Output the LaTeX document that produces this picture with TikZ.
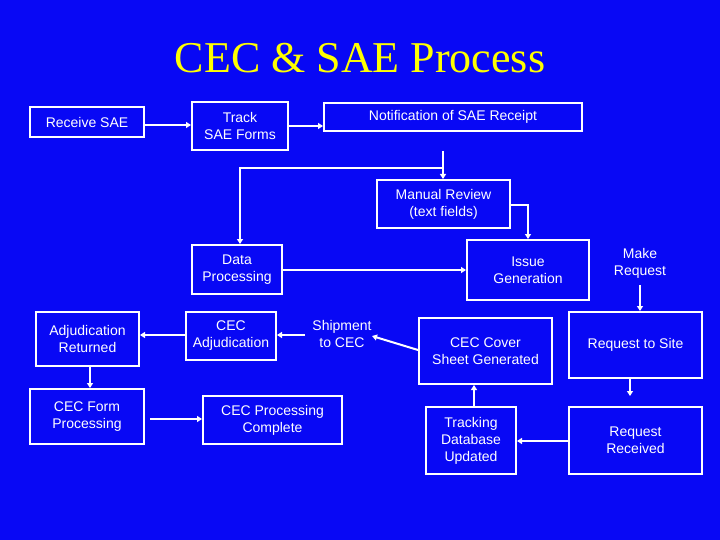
\documentclass[tikz,border=0pt]{standalone}
\usepackage{fontspec}
\setmainfont{Liberation Sans}
\newfontfamily\titlefont{Liberation Serif}
\usetikzlibrary{arrows.meta}
\definecolor{bg}{RGB}{8,8,245}
\definecolor{ttl}{RGB}{255,255,0}
\begin{document}
\begin{tikzpicture}[x=1pt,y=-1pt,
 box/.style={draw=white,line width=2pt,text=white,align=center,font=\fontsize{14}{17}\selectfont,inner sep=0pt},
 lbl/.style={text=white,align=center,font=\fontsize{14}{17}\selectfont,inner sep=0pt},
 conn/.style={draw=white,line width=2pt,-{Triangle[length=5pt,width=6pt]}},
 ln/.style={draw=white,line width=2pt}]
\fill[bg] (0,0) rectangle (720,540);
\useasboundingbox (0,0) rectangle (720,540);
\node[text=ttl,font=\titlefont\fontsize{44}{50}\selectfont] (title) at (360,58) {CEC \& SAE Process};
\newcommand\bx[6]{\node[box,minimum width=#4-#2,minimum height=#5-#3] (#1) at ({(#2+#4)/2},{(#3+#5)/2}) {#6};}
\bx{rec}{30}{107}{144}{137}{Receive SAE}
\bx{track}{192}{102}{288}{150}{Track\\SAE Forms}
\bx{notif}{324}{103}{582}{131}{Notification of SAE Receipt}
\bx{manual}{377}{180}{510}{228}{Manual Review\\(text fields)}
\bx{data}{192}{245}{282}{294}{Data\\Processing}
\bx{issue}{467}{240}{589}{300}{Issue\\Generation}
\node[lbl] (make) at (640,263) {Make\\Request};
\bx{adjret}{36}{312}{139}{366}{Adjudication\\Returned}
\bx{cecadj}{186}{312}{276}{360}{CEC\\Adjudication}
\node[lbl] (ship) at (342,334) {Shipment\\to CEC};
\bx{cover}{419}{318}{552}{384}{CEC Cover\\Sheet Generated}
\bx{site}{569}{312}{702}{378}{Request to Site}
\bx{form}{30}{389}{144}{444}{CEC Form\\Processing}
\bx{complete}{203}{396}{342}{444}{CEC Processing\\Complete}
\bx{trackdb}{426}{407}{516}{474}{Tracking\\Database\\Updated}
\bx{recv}{569}{407}{702}{474}{Request\\Received}
\coordinate (ntop) at (443,151);
\coordinate (branch) at (443,168);
\coordinate (sitebot) at (630,378);
\coordinate (recvtop) at (630,396);
\coordinate (maketop) at (640,285);
\draw[conn] (rec.east |- 0,125) -- (track.west |- 0,125);
\draw[conn] (track.east |- 0,126) -- (notif.west |- 0,126);
\draw[conn] (ntop) -- (manual.north -| ntop);
\draw[conn] (branch) -| (data.north -| 240,0);
\draw[conn] (manual.east |- 0,205) -| (issue.north -| 528,0);
\draw[conn] (data.east |- 0,270) -- (issue.west |- 0,270);
\draw[conn] (maketop) -- (site.north -| maketop);
\draw[conn] (sitebot) -- (recvtop);
\draw[conn] (recv.west |- 0,441) -- (trackdb.east |- 0,441);
\draw[conn] (trackdb.north -| 474,0) -- (cover.south -| 474,0);
\draw[conn] (cover.west |- 0,350) -- (372,336);
\draw[conn] (305,335) -- (cecadj.east |- 0,335);
\draw[conn] (cecadj.west |- 0,335) -- (adjret.east |- 0,335);
\draw[conn] (adjret.south -| 90,0) -- (form.north -| 90,0);
\draw[conn] (150,419) -- (complete.west |- 0,419);
\end{tikzpicture}
\end{document}
